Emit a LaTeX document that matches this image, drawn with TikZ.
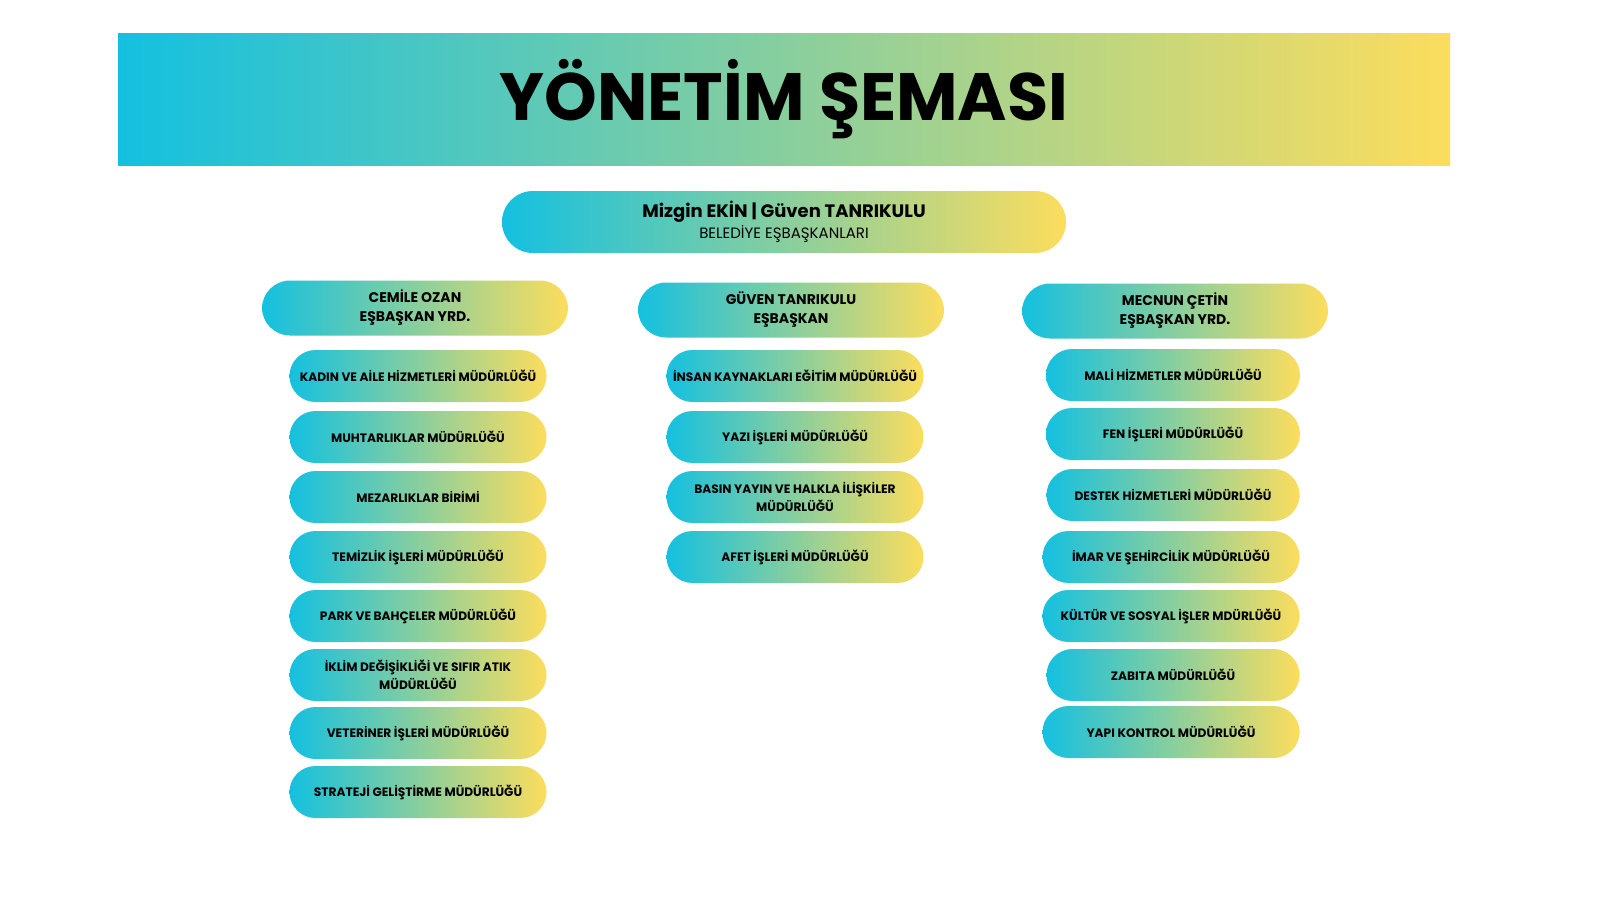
\documentclass[tikz,border=0pt]{standalone}
\usepackage{fontspec}
\setmainfont{Poppins}
\definecolor{sky}{HTML}{14C0E0}
\definecolor{sun}{HTML}{FCDD5D}
\tikzset{
  band/.style={left color=sky, right color=sun, draw=none, inner sep=0pt},
  header/.style={band, minimum width=1332pt, minimum height=132pt,
    font=\bfseries\fontsize{67}{72}\selectfont},
  boss/.style={band, rounded corners=31pt, minimum width=564pt,
    minimum height=62pt, align=center, font=\fontsize{15}{21}\selectfont},
  deputy/.style={band, rounded corners=28pt, minimum width=306pt,
    minimum height=55pt, align=center,
    font=\bfseries\fontsize{14}{19}\selectfont},
  pill/.style={band, rounded corners=26pt, minimum width=257pt,
    minimum height=52pt, align=center,
    font=\bfseries\fontsize{12.2}{17.5}\selectfont},
}
\begin{document}
\begin{tikzpicture}[x=1pt,y=-1pt]
  \useasboundingbox (0,0) rectangle (1600,900);
  \fill[white] (0,0) rectangle (1600,900);

  % title band
  \node[header] (head) at (784,99) {\raisebox{-2pt}{YÖNETİM ŞEMASI}};

  % co-mayors
  \node[boss] (boss) at (784,222)
    {{\bfseries\fontsize{18}{21}\selectfont Mizgin EKİN | Güven TANRIKULU}\\
     BELEDİYE EŞBAŞKANLARI};

  % deputies
  \node[deputy] (ozan)  at (415,308) {CEMİLE OZAN\\EŞBAŞKAN YRD.};
  \node[deputy] (guven) at (791,310) {GÜVEN TANRIKULU\\EŞBAŞKAN};
  \node[deputy] (cetin) at (1175,311) {MECNUN ÇETİN\\EŞBAŞKAN YRD.};

  % left column
  \foreach \y/\txt [count=\i] in {
      376/{KADIN VE AİLE HİZMETLERİ MÜDÜRLÜĞÜ},
      437/{MUHTARLIKLAR MÜDÜRLÜĞÜ},
      497/{MEZARLIKLAR BİRİMİ},
      557/{TEMİZLİK İŞLERİ MÜDÜRLÜĞÜ},
      616/{PARK VE BAHÇELER MÜDÜRLÜĞÜ},
      675/{İKLİM DEĞİŞİKLİĞİ VE SIFIR ATIK\\MÜDÜRLÜĞÜ},
      733/{VETERİNER İŞLERİ MÜDÜRLÜĞÜ},
      792/{STRATEJİ GELİŞTİRME MÜDÜRLÜĞÜ}}
    \node[pill] (left\i) at (418,\y) {\txt};

  % middle column
  \foreach \y/\txt [count=\i] in {
      376/{İNSAN KAYNAKLARI EĞİTİM MÜDÜRLÜĞÜ},
      437/{YAZI İŞLERİ MÜDÜRLÜĞÜ},
      497/{BASIN YAYIN VE HALKLA İLİŞKİLER\\MÜDÜRLÜĞÜ},
      557/{AFET İŞLERİ MÜDÜRLÜĞÜ}}
    \node[pill] (mid\i) at (795,\y) {\txt};

  % right column
  \foreach \x/\y/\w/\txt [count=\i] in {
      1173/375/254/{MALİ HİZMETLER MÜDÜRLÜĞÜ},
      1173/434/254/{FEN İŞLERİ MÜDÜRLÜĞÜ},
      1173/495/253/{DESTEK HİZMETLERİ MÜDÜRLÜĞÜ},
      1171/557/257/{İMAR VE ŞEHİRCİLİK MÜDÜRLÜĞÜ},
      1171/616/257/{KÜLTÜR VE SOSYAL İŞLER MDÜRLÜĞÜ},
      1173/675/253/{ZABITA MÜDÜRLÜĞÜ},
      1171/732/257/{YAPI KONTROL MÜDÜRLÜĞÜ}}
    \node[pill, minimum width=\w pt] (right\i) at (\x,\y) {\txt};
\end{tikzpicture}
\end{document}
